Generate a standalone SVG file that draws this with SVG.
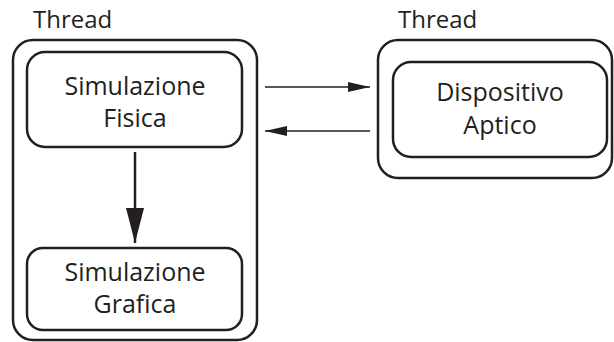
<svg xmlns="http://www.w3.org/2000/svg" width="614" height="342" viewBox="0 0 614 342">
  <defs>
    <style>
      .box { fill: none; stroke: #231f20; stroke-width: 2.5; }
      .lbl { font-family: "Open Sans", "Liberation Sans", sans-serif; font-size: 25px; fill: #231f20; text-anchor: middle; }
      .thr { font-family: "Open Sans", "Liberation Sans", sans-serif; font-size: 24px; fill: #231f20; }
      .thin { stroke: #231f20; stroke-width: 1.6; fill: none; }
      .thick { stroke: #231f20; stroke-width: 2.5; fill: none; }
    </style>
    <marker id="headThin" markerUnits="userSpaceOnUse" markerWidth="24" markerHeight="12" refX="22" refY="6" orient="auto">
      <path d="M0,1 L22,6 L0,11 Z" fill="#231f20"/>
    </marker>
    <marker id="headThick" markerUnits="userSpaceOnUse" markerWidth="36" markerHeight="20" refX="35" refY="10" orient="auto">
      <path d="M0,1 L35,10 L0,19 Z" fill="#231f20"/>
    </marker>
  </defs>

  <!-- left thread container -->
  <g id="thread-left">
    <text class="thr" x="33" y="28">Thread</text>
    <rect class="box" x="13" y="40" width="244" height="300" rx="20"/>
  </g>

  <g id="sim-fisica">
    <rect class="box" x="27" y="52" width="215" height="95" rx="18"/>
    <text class="lbl" x="135" y="95">Simulazione</text>
    <text class="lbl" x="135" y="127">Fisica</text>
  </g>

  <g id="sim-grafica">
    <rect class="box" x="27" y="248" width="215" height="82" rx="16"/>
    <text class="lbl" x="135" y="281">Simulazione</text>
    <text class="lbl" x="135" y="313">Grafica</text>
  </g>

  <!-- right thread container -->
  <g id="thread-right">
    <text class="thr" x="398" y="28">Thread</text>
    <rect class="box" x="378" y="40" width="234" height="138" rx="20"/>
  </g>

  <g id="dispositivo">
    <rect class="box" x="393" y="62" width="214" height="95" rx="18"/>
    <text class="lbl" x="500" y="101">Dispositivo</text>
    <text class="lbl" x="500" y="134">Aptico</text>
  </g>

  <g id="connectors">
    <line class="thin" x1="265" y1="87" x2="370" y2="87" marker-end="url(#headThin)"/>
    <line class="thin" x1="370" y1="131" x2="265" y2="131" marker-end="url(#headThin)"/>
    <line class="thick" x1="135" y1="152" x2="135" y2="243" marker-end="url(#headThick)"/>
  </g>
</svg>
